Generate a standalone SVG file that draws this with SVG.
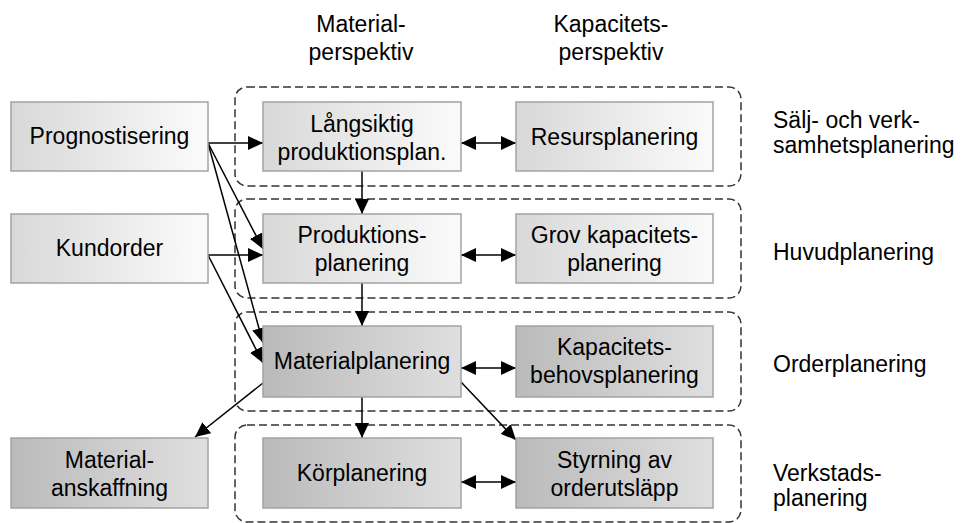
<svg xmlns="http://www.w3.org/2000/svg" width="965" height="523" viewBox="0 0 965 523">
<defs>
<linearGradient id="gl" x1="0" y1="0" x2="1" y2="0"><stop offset="0" stop-color="#d8d8d8"/><stop offset="1" stop-color="#fbfbfb"/></linearGradient>
<linearGradient id="gd" x1="0" y1="0" x2="1" y2="0"><stop offset="0" stop-color="#bababa"/><stop offset="1" stop-color="#dfdfdf"/></linearGradient>
<marker id="ah" markerUnits="userSpaceOnUse" markerWidth="16" markerHeight="14" refX="15" refY="7" orient="auto-start-reverse"><path d="M0,0 L15,7 L0,14 z" fill="#000"/></marker>
<style>
.bl{fill:url(#gl);stroke:#a3a3a3;stroke-width:1.5}
.bd{fill:url(#gd);stroke:#a3a3a3;stroke-width:1.5}
.grp{fill:none;stroke:#333;stroke-width:1.5;stroke-dasharray:8 4}
.t{font-family:"Liberation Sans",Arial,sans-serif;font-size:23px;fill:#000;text-anchor:middle}
.s{font-family:"Liberation Sans",Arial,sans-serif;font-size:23px;fill:#000}
.c{fill:none;stroke:#000;stroke-width:1.5}
.a{fill:none;stroke:#000;stroke-width:1.5;marker-end:url(#ah)}
.d{fill:none;stroke:#000;stroke-width:1.5;marker-start:url(#ah);marker-end:url(#ah)}
</style>
</defs>
<rect width="965" height="523" fill="#fff"/>
<g id="headers">
<text class="t" x="361" y="32">Material-</text>
<text class="t" x="361" y="60">perspektiv</text>
<text class="t" x="611" y="32">Kapacitets-</text>
<text class="t" x="611" y="60">perspektiv</text>
</g>
<g id="groups">
<rect id="grp-salj" class="grp" x="235" y="87" width="506" height="99" rx="12"/>
<rect id="grp-huvud" class="grp" x="235" y="199" width="506" height="99" rx="12"/>
<rect id="grp-order" class="grp" x="235" y="312" width="506" height="99" rx="12"/>
<rect id="grp-verkstad" class="grp" x="235" y="425" width="506" height="97" rx="12"/>
</g>
<g id="level-labels">
<text class="s" x="773" y="128">Sälj- och verk-</text>
<text class="s" x="773" y="153">samhetsplanering</text>
<text class="s" x="773" y="260">Huvudplanering</text>
<text class="s" x="773" y="372">Orderplanering</text>
<text class="s" x="773" y="481">Verkstads-</text>
<text class="s" x="773" y="506">planering</text>
</g>
<g id="connectors">
<line class="a" x1="208" y1="143" x2="263" y2="143"/>
<line class="a" x1="208" y1="143" x2="263" y2="249"/>
<line class="a" x1="208" y1="143" x2="263" y2="343"/>
<line class="a" x1="208" y1="255" x2="263" y2="255"/>
<line class="a" x1="208" y1="255" x2="263" y2="363"/>
<line class="a" x1="362" y1="171" x2="362" y2="214"/>
<line class="a" x1="362" y1="283" x2="362" y2="326"/>
<line class="a" x1="362" y1="397" x2="362" y2="438"/>
<line class="a" x1="263" y1="383" x2="195" y2="437"/>
<line class="a" x1="461" y1="382" x2="516" y2="440"/>
<line class="d" x1="461" y1="143" x2="516" y2="143"/>
<line class="d" x1="461" y1="255" x2="516" y2="255"/>
<line class="d" x1="461" y1="368" x2="516" y2="368"/>
<line class="d" x1="461" y1="482" x2="516" y2="482"/>
</g>
<g id="prognostisering"><rect class="bl" x="11" y="102" width="197" height="69"/><text class="t" x="109.5" y="144">Prognostisering</text></g>
<g id="kundorder"><rect class="bl" x="11" y="214" width="197" height="69"/><text class="t" x="109.5" y="256">Kundorder</text></g>
<g id="materialanskaffning"><rect class="bd" x="11" y="438" width="197" height="70"/><text class="t" x="109.5" y="468">Material-</text><text class="t" x="109.5" y="496">anskaffning</text></g>
<g id="langsiktig"><rect class="bl" x="263" y="102" width="198" height="69"/><text class="t" x="362" y="132">Långsiktig</text><text class="t" x="362" y="160">produktionsplan.</text></g>
<g id="produktionsplanering"><rect class="bl" x="263" y="214" width="198" height="69"/><text class="t" x="362" y="243">Produktions-</text><text class="t" x="362" y="271">planering</text></g>
<g id="materialplanering"><rect class="bd" x="263" y="326" width="198" height="71"/><text class="t" x="362" y="369">Materialplanering</text></g>
<g id="korplanering"><rect class="bd" x="263" y="438" width="198" height="70"/><text class="t" x="362" y="481">Körplanering</text></g>
<g id="resursplanering"><rect class="bl" x="516" y="102" width="197" height="69"/><text class="t" x="614.5" y="145">Resursplanering</text></g>
<g id="grovkapacitet"><rect class="bl" x="516" y="214" width="197" height="69"/><text class="t" x="614.5" y="243">Grov kapacitets-</text><text class="t" x="614.5" y="271">planering</text></g>
<g id="kapacitetsbehov"><rect class="bd" x="516" y="326" width="197" height="71"/><text class="t" x="614.5" y="355">Kapacitets-</text><text class="t" x="614.5" y="383">behovsplanering</text></g>
<g id="styrning"><rect class="bd" x="516" y="438" width="197" height="70"/><text class="t" x="614.5" y="468">Styrning av</text><text class="t" x="614.5" y="496">orderutsläpp</text></g>
</svg>
